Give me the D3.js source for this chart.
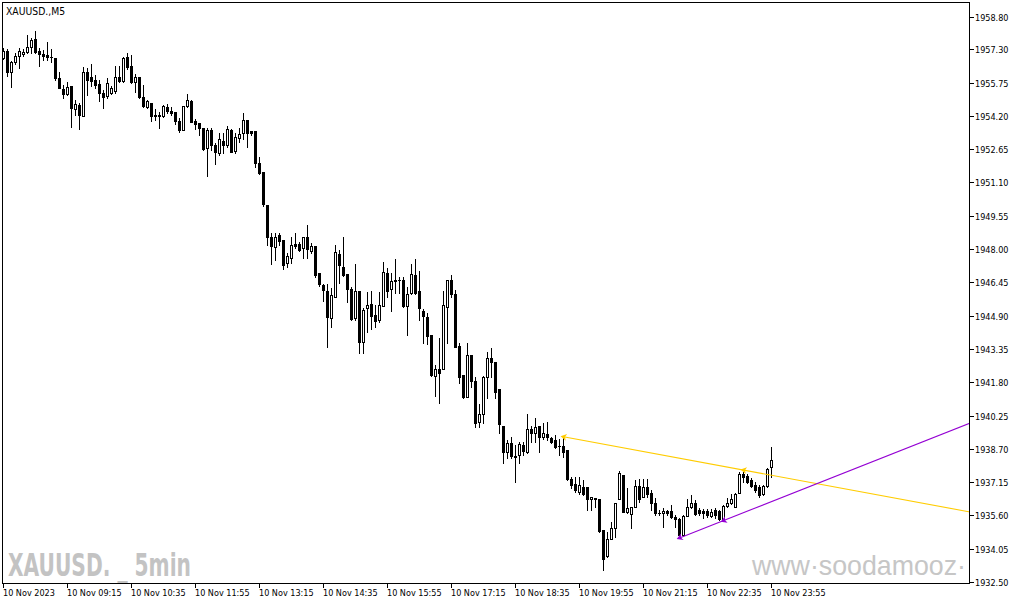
<!DOCTYPE html>
<html>
<head>
<meta charset="utf-8">
<script src="https://cdnjs.cloudflare.com/ajax/libs/d3/7.8.5/d3.min.js"></script>
<style>
  html, body { margin: 0; padding: 0; background: #fff; }
  svg { display: block; }
  .lbl { font-family: "DejaVu Sans Condensed", "DejaVu Sans", sans-serif; font-size: 9px; fill: #000; }
</style>
</head>
<body>
<svg id="chart" width="1015" height="605"></svg>
<script>
// ---------------- DATA ----------------
const symbolTitle = "XAUUSD.,M5";
const timeLabels = ["10 Nov 2023","10 Nov 09:15","10 Nov 10:35","10 Nov 11:55","10 Nov 13:15","10 Nov 14:35",
  "10 Nov 15:55","10 Nov 17:15","10 Nov 18:35","10 Nov 19:55","10 Nov 21:15","10 Nov 22:35","10 Nov 23:55"];
const barsPerTimeLabel = 16;
const priceTicks = [1958.80,1957.30,1955.75,1954.20,1952.65,1951.10,1949.55,1948.00,1946.45,
  1944.90,1943.35,1941.80,1940.25,1938.70,1937.15,1935.60,1934.05,1932.50];

const open = [1956.90,1957.22,1956.25,1956.69,1957.00,1957.06,1957.18,1957.42,1957.77,1957.22,
1957.09,1957.03,1956.95,1956.88,1955.97,1955.45,1955.21,1955.59,1954.50,1954.70,
1954.20,1956.22,1955.99,1955.85,1955.67,1955.25,1955.12,1955.26,1955.35,1955.99,
1955.82,1956.95,1956.53,1955.76,1955.99,1955.09,1954.62,1954.78,1954.24,1954.22,
1954.20,1954.62,1954.42,1954.36,1953.97,1953.54,1954.66,1954.90,1953.96,1953.85,
1953.62,1952.69,1953.54,1952.84,1952.45,1953.03,1952.84,1953.54,1952.58,1953.15,
1953.41,1954.00,1953.49,1953.49,1952.02,1951.60,1950.05,1948.57,1948.11,1948.65,
1948.42,1947.36,1947.57,1948.23,1948.23,1948.03,1948.57,1947.92,1948.14,1946.87,
1946.32,1946.04,1944.77,1945.78,1947.77,1947.15,1946.84,1946.12,1944.77,1946.04,
1943.66,1945.24,1945.44,1944.93,1944.69,1945.36,1946.90,1946.12,1946.56,1946.56,
1946.56,1945.36,1945.96,1946.79,1946.04,1945.11,1944.85,1944.00,1942.10,1942.41,
1942.41,1945.31,1946.56,1945.90,1943.48,1942.13,1941.12,1943.07,1941.87,1939.96,
1940.32,1942.06,1942.94,1942.73,1941.47,1939.76,1938.56,1938.95,1938.36,1938.41,
1938.88,1938.56,1939.61,1939.45,1939.76,1939.26,1939.37,1939.19,1939.11,1938.84,
1938.83,1938.64,1937.28,1937.06,1936.70,1936.91,1936.91,1936.35,1936.39,1936.35,
1934.92,1933.71,1934.49,1935.00,1936.35,1937.48,1935.74,1935.66,1936.00,1936.97,
1936.47,1936.91,1936.63,1936.16,1935.72,1935.70,1935.80,1935.80,1935.51,1935.42,
1934.69,1935.58,1935.97,1936.16,1935.85,1935.80,1935.80,1935.58,1935.85,1935.80,
1935.42,1936.04,1936.16,1935.97,1936.66,1937.53,1937.43,1937.25,1937.01,1936.91,
1936.59,1936.97,1937.87];

const high = [1957.34,1957.31,1956.75,1957.11,1957.34,1957.31,1957.96,1957.83,1958.15,1957.34,
1957.26,1957.65,1957.31,1956.88,1956.25,1955.63,1955.79,1955.59,1954.94,1954.78,
1956.49,1956.41,1956.61,1956.10,1955.87,1955.40,1955.95,1955.59,1956.53,1956.53,
1956.95,1957.11,1957.03,1956.13,1956.02,1955.63,1954.94,1954.78,1954.50,1954.39,
1954.70,1954.73,1954.62,1954.39,1954.08,1954.68,1955.20,1954.94,1954.04,1953.86,
1953.63,1953.62,1953.62,1952.92,1953.39,1953.41,1953.72,1953.57,1953.41,1953.62,
1954.34,1954.00,1953.49,1953.49,1952.30,1951.60,1950.05,1948.73,1948.73,1948.73,
1948.42,1947.80,1948.54,1948.76,1948.34,1948.57,1949.12,1948.26,1948.14,1946.87,
1946.37,1946.36,1946.17,1948.19,1947.95,1948.57,1946.84,1946.24,1947.30,1946.04,
1945.25,1946.01,1946.06,1945.39,1946.01,1947.39,1947.10,1946.90,1947.53,1946.71,
1946.71,1946.24,1947.30,1947.53,1946.98,1945.19,1945.03,1944.00,1942.60,1943.84,
1946.06,1946.56,1946.79,1946.09,1943.61,1942.13,1943.61,1943.07,1942.06,1940.78,
1942.09,1943.22,1943.38,1942.73,1941.47,1939.76,1939.11,1939.26,1938.88,1939.03,
1939.03,1940.32,1939.76,1940.12,1939.76,1939.89,1939.96,1939.26,1939.34,1939.14,
1939.19,1938.64,1937.40,1937.40,1937.40,1937.25,1936.91,1936.44,1936.39,1936.35,
1934.92,1934.84,1935.31,1936.16,1937.68,1937.48,1936.86,1936.00,1937.25,1937.28,
1937.28,1937.28,1936.78,1936.39,1935.85,1935.93,1935.85,1936.08,1935.62,1935.46,
1935.62,1936.35,1936.55,1936.32,1935.93,1935.88,1935.88,1935.88,1935.93,1935.85,
1936.08,1936.39,1936.59,1936.63,1937.63,1937.63,1937.53,1937.33,1937.17,1937.01,
1937.01,1937.79,1938.80];

const low = [1956.84,1956.07,1955.55,1956.60,1956.41,1957.00,1957.11,1957.11,1957.11,1956.53,
1956.80,1956.80,1956.69,1955.87,1955.48,1955.01,1955.17,1953.69,1954.24,1953.59,
1954.20,1955.17,1955.60,1955.48,1954.89,1954.58,1955.04,1955.21,1955.25,1955.79,
1955.79,1956.38,1955.71,1955.32,1955.04,1954.62,1954.58,1953.97,1954.00,1953.62,
1954.16,1954.34,1954.24,1953.82,1953.46,1953.52,1954.62,1953.91,1953.57,1953.31,
1952.61,1951.40,1952.61,1951.96,1952.38,1952.45,1952.73,1952.50,1952.45,1952.99,
1953.11,1952.73,1953.31,1951.80,1951.49,1950.00,1948.19,1947.30,1947.49,1948.19,
1947.05,1947.15,1947.36,1948.03,1947.92,1947.57,1947.57,1947.83,1946.71,1946.28,
1945.59,1943.45,1944.38,1945.78,1946.43,1946.74,1945.52,1944.69,1944.69,1943.14,
1943.14,1944.12,1944.26,1944.38,1944.61,1945.36,1945.78,1945.13,1945.94,1945.94,
1945.31,1944.00,1945.90,1945.90,1944.69,1943.64,1943.58,1942.09,1941.17,1940.82,
1942.41,1943.64,1945.78,1943.45,1941.78,1941.06,1941.12,1941.59,1939.73,1939.73,
1939.91,1941.05,1942.06,1941.05,1939.45,1938.02,1938.26,1938.26,1937.17,1938.02,
1938.41,1938.49,1939.03,1939.03,1938.56,1939.14,1939.11,1938.98,1938.72,1938.41,
1938.33,1937.25,1936.86,1936.69,1936.59,1936.55,1935.85,1935.85,1935.97,1934.84,
1933.06,1933.68,1934.49,1934.58,1936.35,1935.74,1935.70,1935.00,1935.97,1936.24,
1936.44,1936.47,1935.85,1935.62,1935.62,1935.07,1935.62,1935.46,1935.07,1934.61,
1934.66,1935.58,1935.93,1935.62,1935.62,1935.46,1935.51,1935.54,1935.46,1935.38,
1935.38,1935.97,1936.13,1935.97,1936.63,1937.17,1937.09,1936.91,1936.70,1936.47,
1936.55,1936.93,1937.40];

const close = [1957.22,1956.22,1956.69,1957.00,1957.22,1957.18,1957.42,1957.73,1957.16,1957.09,
1957.00,1956.95,1956.92,1955.97,1955.51,1955.21,1955.53,1954.55,1954.73,1954.24,
1956.22,1955.87,1955.82,1955.63,1955.28,1955.09,1955.71,1955.49,1955.99,1955.83,
1956.90,1956.49,1955.76,1955.99,1955.09,1954.66,1954.89,1954.20,1954.19,1954.19,
1954.66,1954.42,1954.34,1953.97,1953.54,1954.66,1954.94,1953.92,1953.82,1953.62,
1952.64,1953.54,1952.84,1952.53,1953.11,1952.84,1953.57,1952.53,1953.23,1953.35,
1954.00,1953.39,1953.41,1952.02,1951.52,1950.09,1948.54,1948.14,1948.57,1948.39,
1947.25,1947.67,1948.19,1948.14,1947.95,1948.57,1947.99,1948.14,1946.79,1946.37,
1946.09,1944.82,1945.86,1947.85,1947.25,1946.79,1946.14,1944.74,1946.04,1943.66,
1945.16,1945.39,1944.89,1944.66,1945.39,1946.91,1946.06,1946.51,1946.52,1946.54,
1945.36,1945.90,1946.84,1945.96,1945.24,1944.89,1943.96,1942.13,1942.40,1942.24,
1945.39,1946.56,1945.90,1943.45,1942.06,1941.10,1943.07,1941.87,1939.91,1940.32,
1942.06,1942.91,1942.73,1941.36,1939.84,1938.54,1938.95,1938.38,1938.30,1938.91,
1938.61,1939.61,1939.45,1939.73,1939.26,1939.45,1939.23,1939.03,1938.80,1938.83,
1938.56,1937.28,1937.01,1936.78,1937.01,1936.59,1936.35,1936.44,1936.35,1934.89,
1933.56,1934.49,1935.00,1936.16,1937.59,1935.77,1935.93,1936.00,1936.97,1936.35,
1936.91,1936.59,1936.16,1935.70,1935.71,1935.80,1935.70,1935.51,1935.42,1934.69,
1935.58,1935.97,1936.19,1935.66,1935.70,1935.70,1935.62,1935.74,1935.62,1935.42,
1936.04,1936.19,1936.35,1936.59,1937.53,1937.40,1937.17,1936.97,1936.78,1936.55,
1936.97,1937.74,1938.18];

// trend lines: two anchor points (bar index, price), drawn as rays to the right
const trendBars   = [[140, 185], [169, 180]];
const trendPrices = [[1939.26, 1937.71], [1934.55, 1935.36]];
const trendColors = ["#ffcc00", "#9400d3"];

const watermarkLeft = "XAUUSD. _ 5min";
const watermarkRight = "www·soodamooz·";

// ---------------- DRAW ----------------
const svg = d3.select("#chart");
const W = 1015, H = 605;
const plotL = 2.5, plotR = 969.5, plotT = 2.5, plotB = 583.5;

svg.append("rect").attr("width", W).attr("height", H).attr("fill", "#fff");

const x = d3.scaleLinear().domain([0, open.length - 1]).range([3.5, 3.5 + 4 * (open.length - 1)]);
const y = d3.scaleLinear().domain([1932.50, 1958.80]).range([582, 17]);

svg.append("defs").append("clipPath").attr("id", "plotClip")
  .append("rect").attr("x", plotL).attr("y", plotT).attr("width", plotR - plotL).attr("height", plotB - plotT);

const plot = svg.append("g").attr("clip-path", "url(#plotClip)");

// watermarks
plot.append("text")
  .attr("x", 8).attr("y", 576)
  .attr("font-family", "'Liberation Sans Narrow', 'DejaVu Sans Condensed', sans-serif")
  .attr("font-weight", "bold").attr("font-size", 32)
  .attr("textLength", 183).attr("lengthAdjust", "spacingAndGlyphs")
  .attr("fill", "#c3c3c3").text(watermarkLeft);
plot.append("text")
  .attr("x", 752).attr("y", 575)
  .attr("font-family", "'Liberation Sans', Arial, sans-serif")
  .attr("font-size", 27.5)
  .attr("textLength", 214).attr("lengthAdjust", "spacingAndGlyphs")
  .attr("fill", "#c6c6c6").text(watermarkRight);

// candles
const bars = d3.range(open.length);
const cg = plot.append("g").attr("shape-rendering", "crispEdges");
bars.forEach(i => {
  const o = open[i], c = close[i];
  const hi = Math.max(high[i], o, c), lo = Math.min(low[i], o, c);
  const cx = x(i);
  cg.append("line")
    .attr("x1", cx).attr("x2", cx)
    .attr("y1", Math.round(y(hi))).attr("y2", Math.round(y(lo)) + 1)
    .attr("stroke", "#000").attr("stroke-width", 1);
  const yt = Math.round(y(Math.max(o, c))), yb = Math.round(y(Math.min(o, c)));
  if (yb - yt < 1) {
    cg.append("line").attr("x1", cx - 1.5).attr("x2", cx + 1.5)
      .attr("y1", yt + 0.5).attr("y2", yt + 0.5).attr("stroke", "#000");
  } else {
    cg.append("rect")
      .attr("x", cx - 1).attr("y", yt + 0.5)
      .attr("width", 2).attr("height", yb - yt)
      .attr("fill", c > o ? "#fff" : "#000")
      .attr("stroke", "#000").attr("stroke-width", 1);
  }
});

// trend lines (rays to the right edge)
trendBars.forEach((b, k) => {
  const p = trendPrices[k];
  const x1 = x(b[0]), y1 = y(p[0]), x2 = x(b[1]), y2 = y(p[1]);
  const slope = (y2 - y1) / (x2 - x1);
  const xe = plotR + 2, ye = y1 + slope * (xe - x1);
  plot.append("line").attr("x1", x1).attr("y1", y1).attr("x2", xe).attr("y2", ye)
    .attr("stroke", trendColors[k]).attr("stroke-width", 1.1);
  const ang = Math.atan2(y2 - y1, x2 - x1) * 180 / Math.PI;
  [[x1, y1], [x2, y2]].forEach(([ax, ay]) => {
    plot.append("path")
      .attr("d", "M-3,0 L3,-3.5 L1.5,0 L3,3.5 Z")
      .attr("transform", `translate(${ax},${ay}) rotate(${ang})`)
      .attr("fill", trendColors[k]);
  });
});

// frame
svg.append("rect").attr("x", plotL).attr("y", plotT)
  .attr("width", plotR - plotL).attr("height", plotB - plotT)
  .attr("fill", "none").attr("stroke", "#000").attr("shape-rendering", "crispEdges");

// right price axis
const ya = svg.append("g");
priceTicks.forEach(v => {
  const yy = Math.round(y(v)) + 0.5;
  ya.append("line").attr("x1", plotR).attr("x2", plotR + 4).attr("y1", yy).attr("y2", yy)
    .attr("stroke", "#000").attr("shape-rendering", "crispEdges");
  ya.append("text").attr("class", "lbl").attr("x", plotR + 5.5).attr("y", yy + 3.3).text(v.toFixed(2));
});

// bottom time axis
const xa = svg.append("g");
timeLabels.forEach((t, k) => {
  const xx = x(k * barsPerTimeLabel);
  xa.append("line").attr("x1", xx).attr("x2", xx).attr("y1", plotB).attr("y2", plotB + 4.5)
    .attr("stroke", "#000").attr("shape-rendering", "crispEdges");
  xa.append("text").attr("class", "lbl").attr("x", xx - 0.5).attr("y", 596).text(t);
});

// title
svg.append("text").attr("class", "lbl").attr("x", 6).attr("y", 14.5)
  .style("font-size", "10.3px").text(symbolTitle);
</script>
</body>
</html>
